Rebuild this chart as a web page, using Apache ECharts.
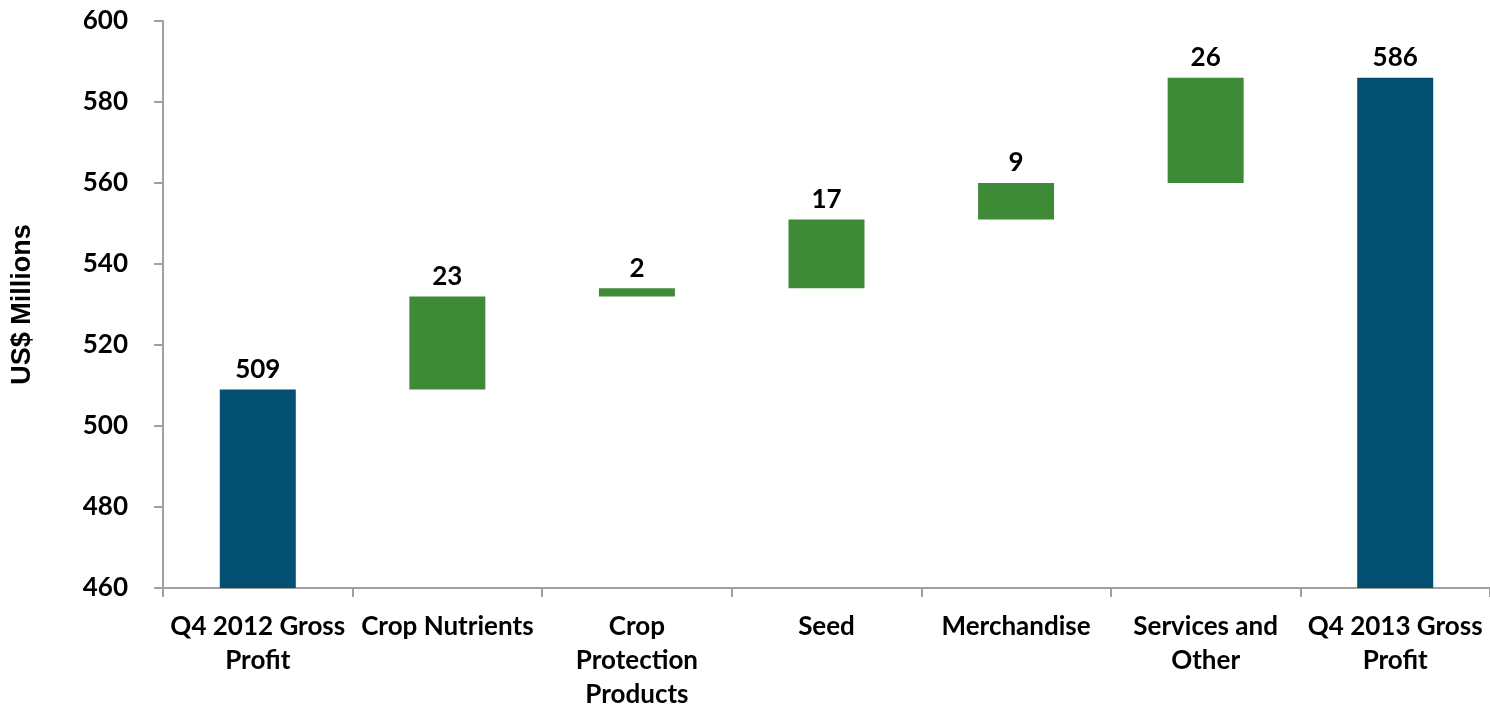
<!DOCTYPE html>
<html>
<head>
<meta charset="utf-8">
<title>Gross Profit Bridge Q4 2012 to Q4 2013</title>
<script src="https://cdn.jsdelivr.net/npm/echarts@6/dist/echarts.min.js"></script>
<style>
  html, body { margin: 0; padding: 0; background: #ffffff; }
  #chart { width: 1490px; height: 707px; }
</style>
</head>
<body>
<div id="chart"></div>
<script>
// Bridge steps, left to right
const categories = [
  'Q4 2012 Gross Profit',
  'Crop Nutrients',
  'Crop Protection Products',
  'Seed',
  'Merchandise',
  'Services and Other',
  'Q4 2013 Gross Profit'
];
// Axis labels as they wrap under each bar
const tickLabels = [
  'Q4 2012 Gross\nProfit',
  'Crop Nutrients',
  'Crop\nProtection\nProducts',
  'Seed',
  'Merchandise',
  'Services and\nOther',
  'Q4 2013 Gross\nProfit'
];
// Totals are full bars, changes float on the running total
const stepValues = [509, 23, 2, 17, 9, 26, 586];
const stepKinds = ['total', 'change', 'change', 'change', 'change', 'change', 'total'];
const yTicks = [460, 480, 500, 520, 540, 560, 580, 600];

const BLUE = '#024f72';
const GREEN = '#3f8a37';
const AXIS_GREY = '#a0a0a0';
const LABEL_FONT = 'Lato, "Open Sans", sans-serif';

// Invisible base under each floating change bar
let running = 0;
const baseData = [];
const visibleData = [];
stepValues.forEach((v, i) => {
  if (stepKinds[i] === 'total') {
    baseData.push(0);
    running = v;
    visibleData.push({ value: v, itemStyle: { color: BLUE } });
  } else {
    baseData.push(running);
    running += v;
    visibleData.push({ value: v, itemStyle: { color: GREEN } });
  }
});

const chart = echarts.init(document.getElementById('chart'), null, { renderer: 'canvas' });

chart.setOption({
  animation: false,
  backgroundColor: '#ffffff',
  grid: {
    left: 163, right: 0, top: 21, bottom: 119,
    containLabel: false,
    outerBoundsMode: 'none'
  },
  xAxis: {
    type: 'category',
    data: categories,
    boundaryGap: true,
    axisLine: { show: true, lineStyle: { color: AXIS_GREY, width: 2 } },
    axisTick: { show: true, length: 9, alignWithLabel: false, lineStyle: { color: AXIS_GREY, width: 2 } },
    axisLabel: {
      interval: 0,
      margin: 22,
      color: '#000000',
      fontFamily: LABEL_FONT,
      fontWeight: 'bold',
      fontSize: 26,
      lineHeight: 34,
      formatter: (val, idx) => tickLabels[idx]
    },
    splitLine: { show: false }
  },
  yAxis: {
    type: 'value',
    min: yTicks[0],
    max: yTicks[yTicks.length - 1],
    interval: yTicks[1] - yTicks[0],
    name: 'US$ Millions',
    nameLocation: 'middle',
    nameGap: 127,
    nameRotate: 90,
    nameTextStyle: {
      color: '#000000',
      fontFamily: '"Liberation Sans", Arial, sans-serif',
      fontWeight: 'bold',
      fontSize: 27
    },
    axisLine: { show: true, lineStyle: { color: AXIS_GREY, width: 2 } },
    axisTick: { show: true, length: 9, lineStyle: { color: AXIS_GREY, width: 2 } },
    axisLabel: {
      margin: 35,
      color: '#000000',
      fontFamily: LABEL_FONT,
      fontWeight: 'bold',
      fontSize: 26
    },
    splitLine: { show: false }
  },
  series: [
    {
      name: 'base',
      type: 'bar',
      stack: 'bridge',
      barWidth: 76,
      silent: true,
      itemStyle: { color: 'rgba(0,0,0,0)' },
      data: baseData
    },
    {
      name: 'step',
      type: 'bar',
      stack: 'bridge',
      barWidth: 76,
      data: visibleData,
      label: {
        show: true,
        position: 'top',
        distance: 7,
        color: '#000000',
        fontFamily: LABEL_FONT,
        fontWeight: 'bold',
        fontSize: 26,
        formatter: p => String(p.value)
      }
    }
  ]
});
</script>
</body>
</html>
